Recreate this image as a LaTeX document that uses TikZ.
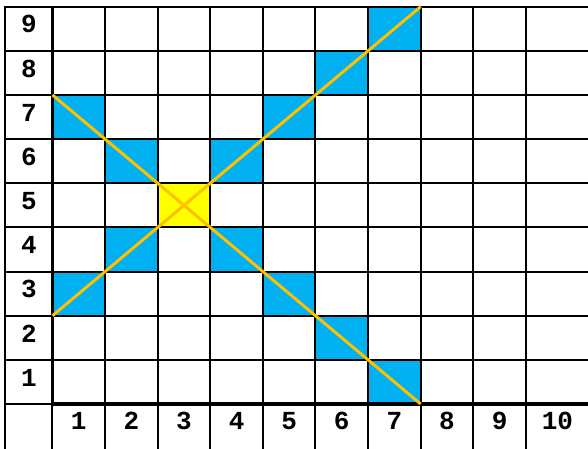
\documentclass[tikz,border=0pt]{standalone}
\usepackage{fontspec}
\setmonofont{Liberation Mono}
\usepackage{tikz}
\definecolor{cellblue}{HTML}{00B0F0}
\definecolor{cellyellow}{HTML}{FFFF00}
\definecolor{lineorange}{HTML}{FFC000}

\begin{document}
\begin{tikzpicture}[x=52.6pt, y=44.15pt,
  every node/.style={font=\ttfamily\bfseries\fontsize{26}{26}\selectfont},
  gridline/.style={line width=2pt, line cap=rect},
  axisline/.style={line width=3.8pt},
  diagline/.style={lineorange, line width=3pt}]
\useasboundingbox (-0.998,-1.019) rectangle (10.181,9.151);
% marked cells
\foreach \c/\r in {7/9,6/8,1/7,5/7,2/6,4/6,2/4,4/4,1/3,5/3,6/2,7/1}
  \fill[cellblue] (\c-1,\r-1) rectangle (\c,\r);
\fill[cellyellow] (2,4) rectangle (3,5);
% grid
\foreach \y in {1,...,9}
  \draw[gridline] (-0.894,\y) -- (10.3,\y);
\foreach \x in {1,...,9}
  \draw[gridline] (\x,-1.1) -- (\x,9);
\draw[gridline] (-0.894,-1.1) -- (-0.894,9);
\draw[gridline] (-0.894,0) -- (0,0);
\draw[gridline] (0,-1.1) -- (0,0);
\draw[axisline] (0,0) -- (10.3,0);
\draw[axisline] (0,0) -- (0,9);
% labels
\foreach \r in {1,...,9}
  \node (row\r) at (-0.447,\r-0.4) {\r};
\foreach \c in {1,...,9}
  \node (col\c) at (\c-0.5,-0.39) {\c};
\node (col10) at (9.6,-0.39) {10};
% diagonals
\coordinate (A) at (0,7);
\coordinate (B) at (7,0);
\coordinate (C) at (0,2);
\coordinate (D) at (7,9);
\draw[diagline] (A) -- (B);
\draw[diagline] (C) -- (D);
\end{tikzpicture}
\end{document}
